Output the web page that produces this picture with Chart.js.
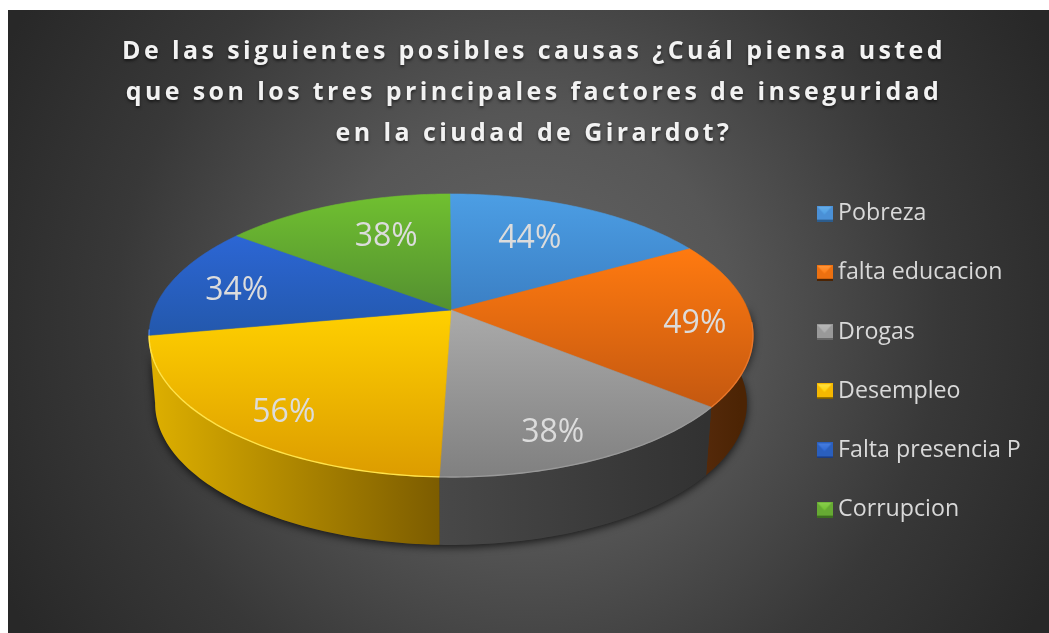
<!DOCTYPE html>
<html><head><meta charset="utf-8">
<style>html,body{margin:0;padding:0;background:#fff}canvas{display:block}</style>
<script src="https://cdn.jsdelivr.net/npm/chart.js@4"></script>
</head><body>
<div style="width:1049px;height:633px"><canvas id="c" width="1049" height="633"></canvas></div>
<script>
const titleLines = ['De las siguientes posibles causas ¿Cuál piensa usted','que son los tres principales factores de inseguridad','en la ciudad de Girardot?'];
const categories = ['Pobreza','falta educacion','Drogas','Desempleo','Falta presencia P','Corrupcion'];
const percentValues = [44,49,38,56,34,38];
const baseColors = ['#4a90d6','#ed7010','#999999','#f5b800','#2a5fbe','#66aa33'];
const faceTop = ['#4c9ee4','#ff7a10','#aaaaaa','#ffd000','#2c66d4','#70c030'];
const faceBottom = ['#3b7fc4','#c45810','#808080','#dc9c00','#2358ac','#549030'];
const wallLeft = ['#2c5c8c','#54290a','#484848','#dcae00','#1c3c80','#3c6c20'];
const wallRight = ['#2c5c8c','#4c2404','#323232','#7c5c00','#1c3c80','#3c6c20'];
const rimColors = ['#6ab0ea','#e8762a','#999999','#ffe34a','#4a80e0','#8cd050'];
const markerLight = ['#6ab0ea','#ff9a40','#b8b8b8','#ffe34a','#4a80e0','#8cd050'];
const labelRadius = [.665,.813,.815,.816,.76,.656];
const labelTurn = [-4.1,.8,3.3,-3.2,-1,5];

const P = {cx:451, cy:310, a:297, b:136.9, p:.18, depth:68, shrink:.98};
function topPt(th){const X=Math.sin(th),Y=-Math.cos(th),w=1-P.p*Y;return [P.cx+P.a*X/w,P.cy+P.b*Y/w];}
function inner(th,r){const X=r*Math.sin(th),Y=-r*Math.cos(th),w=1-P.p*Y;return [P.cx+P.a*X/w,P.cy+P.b*Y/w];}
function low(th){const q=topPt(th);return [P.cx+(q[0]-P.cx)*P.shrink,q[1]+P.depth];}
const D=Math.PI/180;

function marker(i){
  const c=document.createElement('canvas');c.width=16;c.height=16;const g=c.getContext('2d');
  g.fillStyle=baseColors[i];g.fillRect(0,0,16,16);
  const l=g.createLinearGradient(0,0,0,9);l.addColorStop(0,markerLight[i]);l.addColorStop(1,faceTop[i]);
  g.fillStyle=l;g.beginPath();g.moveTo(1,1);g.lineTo(15,1);g.lineTo(8,9);g.closePath();g.fill();
  g.fillStyle=wallRight[i]==='#323232'?'#666':wallRight[i];g.fillRect(0,14,16,2);
  return c;
}

const pie3d={
  id:'pie3d',
  beforeDraw(chart){
    const x=chart.ctx;x.save();
    x.fillStyle='#fff';x.fillRect(0,0,1049,633);
    const g=x.createRadialGradient(528,320,0,528,320,590);
    g.addColorStop(0,'#656565');g.addColorStop(.35,'#565656');g.addColorStop(.7,'#383838');g.addColorStop(1,'#282828');
    x.fillStyle=g;x.fillRect(8,10,1041,623);x.restore();
  },
  beforeDatasetsDraw(chart){
    const x=chart.ctx,arcs=chart.getDatasetMeta(0).data;
    const th=a=>a.startAngle+Math.PI/2, te=a=>a.endAngle+Math.PI/2;
    const N=60;
    // shadow
    x.save();x.shadowColor='rgba(0,0,0,.75)';x.shadowBlur=9;x.shadowOffsetY=2;x.fillStyle='#333';
    x.beginPath();for(let k=0;k<=N;k++){const q=low((88+k*172/N)*D);k?x.lineTo(q[0],q[1]):x.moveTo(q[0],q[1]);}
    for(let k=N;k>=0;k--){const q=topPt((88+k*172/N)*D);x.lineTo(q[0],q[1]);}
    x.closePath();x.fill();x.restore();
    // walls
    arcs.forEach((a,i)=>{
      const s=Math.max(th(a),88*D),e=Math.min(te(a),260*D);if(e<=s)return;
      const p0=low(s),p1=low(e);
      const g=x.createLinearGradient(Math.min(p0[0],p1[0]),0,Math.max(p0[0],p1[0]),0);
      g.addColorStop(0,wallLeft[i]);g.addColorStop(1,wallRight[i]);
      x.fillStyle=g;x.beginPath();
      for(let k=0;k<=N;k++){const q=low(s+(e-s)*k/N);k?x.lineTo(q[0],q[1]):x.moveTo(q[0],q[1]);}
      for(let k=N;k>=0;k--){const q=topPt(s+(e-s)*k/N);x.lineTo(q[0],q[1]);}
      x.closePath();x.fill();
    });
    // top faces
    arcs.forEach((a,i)=>{
      const pts=[];for(let k=0;k<=N;k++)pts.push(topPt(th(a)+(te(a)-th(a))*k/N));
      const ys=pts.map(q=>q[1]).concat(P.cy);
      const g=x.createLinearGradient(0,Math.min(...ys),0,Math.max(...ys));
      g.addColorStop(0,faceTop[i]);g.addColorStop(1,faceBottom[i]);
      x.fillStyle=g;x.beginPath();x.moveTo(P.cx,P.cy);
      pts.forEach(q=>x.lineTo(q[0],q[1]));
      x.closePath();x.fill();x.strokeStyle=g;x.lineWidth=.6;x.stroke();
    });
    // rim highlight
    arcs.forEach((a,i)=>{
      const s=Math.max(th(a),95*D),e=Math.min(te(a),262*D);if(e<=s)return;
      x.strokeStyle=rimColors[i];x.lineWidth=1.4;x.beginPath();
      for(let k=0;k<=N;k++){const q=topPt(s+(e-s)*k/N);k?x.lineTo(q[0],q[1]):x.moveTo(q[0],q[1]);}
      x.stroke();
    });
    // labels
    x.save();x.font='32px "Open Sans"';x.fillStyle='#dcdcdc';x.textAlign='center';x.textBaseline='middle';
    arcs.forEach((a,i)=>{
      const mid=(th(a)+te(a))/2+labelTurn[i]*D,q=inner(mid,labelRadius[i]);
      x.fillText(percentValues[i]+'%',q[0],q[1]+2.5);
    });
    x.restore();
    return false;
  },
  afterLayout(chart){
    const l=chart.legend;l.left=786.5;l.top=166;l.bottom=628;l.right=1040;
    const t=chart.titleBlock;t.left=19;t.right=1049;
    if(!t._sp){t._sp=1;const d=t.draw;t.draw=function(){
      const c=this.ctx;c.save();c.letterSpacing='3.4px';c.shadowColor='rgba(0,0,0,.55)';c.shadowBlur=3;c.shadowOffsetY=2;
      d.call(this);c.restore();c.letterSpacing='0px';};}
  }
};

new Chart(document.getElementById('c'),{
  type:'pie',
  data:{labels:categories,datasets:[{data:percentValues,backgroundColor:baseColors,borderWidth:0}]},
  plugins:[pie3d],
  options:{
    responsive:false,animation:false,rotation:-0.25,
    layout:{padding:0},
    plugins:{
      tooltip:{enabled:false},
      title:{display:true,text:titleLines,color:'#f2f2f2',font:{family:'"Open Sans"',size:25,weight:'bold',lineHeight:1.64},padding:{top:31,bottom:10}},
      legend:{position:'right',align:'start',labels:{
        color:'#d9d9d9',font:{family:'"Open Sans"',size:23.2},usePointStyle:true,boxWidth:4,boxHeight:4,padding:36,
        generateLabels:()=>categories.map((t,i)=>({text:t,fillStyle:baseColors[i],strokeStyle:baseColors[i],lineWidth:0,pointStyle:marker(i),index:i,fontColor:'#d9d9d9'}))
      }}
    }
  }
});
</script>
</body></html>
